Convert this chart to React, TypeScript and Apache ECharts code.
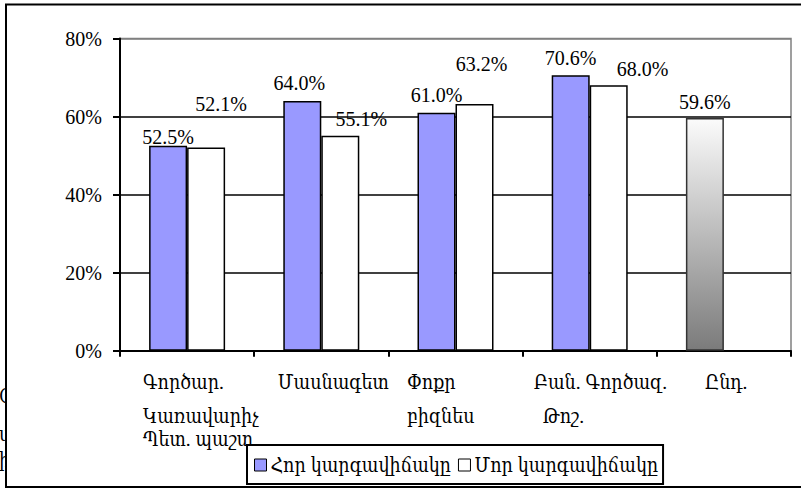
import React, { useEffect, useRef } from "react";
import * as echarts from "echarts";

const categories = [
  "Գործար.\nԿառավարիչ\nՊետ. պաշտ",
  "Մասնագետ",
  "Փոքր\nբիզնես",
  "Բան. Գործազ.\nԹոշ.",
  "Ընդ.",
];
const seriesNames = ["Հոր կարգավիճակը", "Մոր կարգավիճակը"];
const fatherValues = [52.5, 64.0, 61.0, 70.6, 59.6];
const motherValues: (number | null)[] = [52.1, 55.1, 63.2, 68.0, null];
const yTicks = [0, 20, 40, 60, 80];

// layout helpers (not data)
const labelBoxWidths = [88, 87, 97, 103, 38];
const secondLineIndent = [0, 0, 0, 9, 0];
const fatherLabelOffsets = [[0, 6], [-3, -3], [0, -3], [0, -2], [0, -1]];
const motherLabelOffsets = [[15, -28], [21, -2], [7, -25], [34, -1], [0, 0]];

const FONT = "'Liberation Serif', 'DejaVu Serif Condensed', 'DejaVu Serif', 'Times New Roman', serif";
const ARM_SIZE = 19.5;

export default function App() {
  const ref = useRef<HTMLDivElement>(null);
  useEffect(() => {
    if (!ref.current) return;
    const chart = echarts.init(ref.current, null, { renderer: "svg", width: 801, height: 489 });

    const rich: Record<string, any> = {};
    labelBoxWidths.forEach((w, i) => {
      rich[`a${i}`] = { width: w, align: "left", lineHeight: 34, fontSize: ARM_SIZE, fontFamily: FONT, color: "#000" };
      rich[`b${i}`] = {
        width: w,
        align: "left",
        lineHeight: 34,
        fontSize: ARM_SIZE,
        fontFamily: FONT,
        color: "#000",
        padding: [0, 0, 0, secondLineIndent[i]],
      };
      rich[`c${i}`] = { width: w, align: "left", lineHeight: 12, fontSize: ARM_SIZE, fontFamily: FONT, color: "#000" };
    });

    const barLabel = {
      show: true,
      position: "top",
      distance: 5,
      fontSize: 20,
      fontFamily: FONT,
      color: "#000",
      formatter: (p: any) => Number(p.value).toFixed(1) + "%",
    };

    const fatherData = fatherValues.map((v, i) => {
      const item: any = { value: v, label: { offset: fatherLabelOffsets[i] } };
      if (i === fatherValues.length - 1) {
        item.itemStyle = {
          color: new echarts.graphic.LinearGradient(0, 0, 0, 1, [
            { offset: 0, color: "#fbfbfb" },
            { offset: 1, color: "#7b7b7b" },
          ]),
          borderColor: "#333",
          borderWidth: 1.5,
        };
      }
      return item;
    });
    const motherData = motherValues.map((v, i) =>
      v == null ? "-" : { value: v, label: { offset: motherLabelOffsets[i] } }
    );

    chart.setOption({
      animation: false,
      backgroundColor: "#fff",
      textStyle: { fontFamily: FONT },
      grid: {
        left: 120,
        right: 10,
        top: 38.5,
        bottom: 138.3,
        show: true,
        borderColor: "#808080",
        borderWidth: 1.5,
        backgroundColor: "transparent",
      },
      legend: {
        left: 247,
        top: 445,
        orient: "horizontal",
        data: seriesNames,
        icon: "rect",
        itemWidth: 12,
        itemHeight: 12,
        itemGap: 7,
        padding: [10, 5, 9, 7],
        borderColor: "#000",
        borderWidth: 2,
        borderRadius: 0,
        textStyle: { fontSize: ARM_SIZE, fontFamily: FONT, color: "#000", padding: [0, 0, 0, -1] },
        itemStyle: { borderColor: "#000", borderWidth: 1 },
      },
      xAxis: {
        type: "category",
        data: categories,
        axisLine: { lineStyle: { color: "#000", width: 2 } },
        axisTick: { show: true, alignWithLabel: false, length: 6, lineStyle: { color: "#000", width: 2 } },
        axisLabel: {
          interval: 0,
          margin: 15,
          align: "center",
          verticalAlign: "top",
          formatter: (value: string, index: number) => {
            const lines = value.split("\n");
            return lines
              .map((ln, k) => `{${k === 0 ? "a" : k === 1 ? "b" : "c"}${index}|${ln}}`)
              .join("\n");
          },
          rich,
        },
        splitLine: { show: false },
      },
      yAxis: {
        type: "value",
        min: yTicks[0],
        max: yTicks[yTicks.length - 1],
        interval: 20,
        axisLine: { show: true, lineStyle: { color: "#000", width: 2 } },
        axisTick: { show: true, inside: false, length: 7, lineStyle: { color: "#000", width: 2 } },
        axisLabel: {
          margin: 18,
          fontSize: 20,
          fontFamily: FONT,
          color: "#000",
          formatter: "{value}%",
        },
        splitLine: {
          show: true,
          lineStyle: { color: ["#000", "#000", "#000", "#000", "#808080"], width: 1.5 },
        },
      },
      series: [
        {
          name: seriesNames[0],
          type: "bar",
          data: fatherData,
          barWidth: 38,
          barGap: "0%",
          itemStyle: { color: "#9999ff", borderColor: "#000", borderWidth: 1.5 },
          label: barLabel,
        },
        {
          name: seriesNames[1],
          type: "bar",
          data: motherData,
          barWidth: 38,
          itemStyle: { color: "#ffffff", borderColor: "#000", borderWidth: 1.5 },
          label: barLabel,
        },
      ],
      graphic: [
        { type: "text", left: -1, top: 386, style: { text: "Օ", fontSize: ARM_SIZE, fontFamily: FONT, fill: "#000" } },
        { type: "text", left: -1, top: 424, style: { text: "ս", fontSize: ARM_SIZE, fontFamily: FONT, fill: "#000" } },
        { type: "text", left: -1, top: 450, style: { text: "ի", fontSize: ARM_SIZE, fontFamily: FONT, fill: "#000" } },
        { type: "rect", shape: { x: 6, y: 370, width: 40, height: 116 }, style: { fill: "#fff" } },
        {
          type: "rect",
          shape: { x: 6, y: 4.5, width: 820, height: 482.5 },
          style: { fill: "none", stroke: "#000", lineWidth: 2 },
        },
      ],
    });
    return () => chart.dispose();
  }, []);
  return (
    <div
      ref={ref}
      style={{ position: "fixed", left: 0, top: 0, width: 801, height: 489, background: "#fff" }}
    />
  );
}
